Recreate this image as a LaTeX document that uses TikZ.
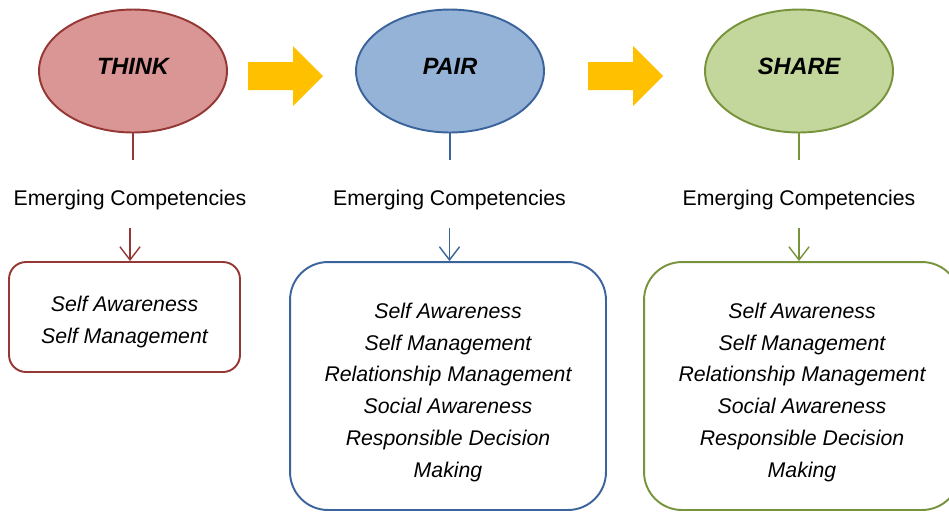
\documentclass[tikz,border=0pt]{standalone}
\usepackage{fontspec}
\setmainfont{Liberation Sans}
\usetikzlibrary{shapes.geometric,arrows.meta}

\definecolor{thinkfill}{HTML}{D99694}
\definecolor{thinkline}{HTML}{953735}
\definecolor{pairfill}{HTML}{95B3D7}
\definecolor{pairline}{HTML}{3B649C}
\definecolor{sharefill}{HTML}{C3D69B}
\definecolor{shareline}{HTML}{77933C}
\definecolor{blockarrow}{HTML}{FFC000}

% taller first line pushes the list down inside its box
\newcommand{\firstline}[1]{\rule{0pt}{#1}}

\tikzset{
  stage/.style={ellipse, draw, line width=1.1pt, minimum width=3.76cm, minimum height=2.46cm,
    inner sep=0pt, text depth=0.2cm, font=\fontsize{13.4}{16}\selectfont\bfseries\itshape},
  emerge/.style={minimum height=1.36cm, inner sep=0pt, text height=0.54cm, text depth=0.09cm,
    font=\fontsize{12.1}{14}\selectfont},
  skills/.style={draw, line width=1.1pt, align=center, inner sep=0pt,
    font=\fontsize{12.1}{18.1}\selectfont\itshape},
  smallbox/.style={skills, minimum width=4.62cm, minimum height=2.2cm, rounded corners=0.34cm},
  bigbox/.style={skills, minimum width=6.32cm, minimum height=4.96cm, rounded corners=0.76cm},
  stub/.style={line width=0.8pt},
  down/.style={line width=0.8pt, -{Straight Barb[length=7.5pt, width=11.5pt]}},
  blockarrow/.style={fill=blockarrow, draw=none}
}

\begin{document}
\begin{tikzpicture}[x=0.02cm, y=-0.02cm]

\useasboundingbox (0,0) rectangle (949,512);
\clip (0,0) rectangle (949,512);

\node[stage, draw=thinkline, fill=thinkfill] (think) at (133,71) {THINK};
\node[emerge] (emerge1) at (130,194) {Emerging Competencies};
\node[smallbox, draw=thinkline] (thinkbox) at (124.5,317) {\firstline{0.5cm}Self Awareness\\Self Management};
\draw[stub, thinkline] (think.south) -- (think.south |- emerge1.north);
\draw[down, thinkline] (emerge1.south) -- (emerge1.south |- thinkbox.north);

\node[stage, draw=pairline, fill=pairfill] (pair) at (450,71) {PAIR};
\node[emerge] (emerge2) at (449.5,194) {Emerging Competencies};
\node[bigbox, draw=pairline] (pairbox) at (448,386) {\firstline{0.556cm}Self Awareness\\Self Management\\Relationship Management\\Social Awareness\\Responsible Decision\\Making};
\draw[stub, pairline] (pair.south) -- (pair.south |- emerge2.north);
\draw[down, pairline] (emerge2.south) -- (emerge2.south |- pairbox.north);

\node[stage, draw=shareline, fill=sharefill] (share) at (799,71) {SHARE};
\node[emerge] (emerge3) at (799,194) {Emerging Competencies};
\node[bigbox, draw=shareline] (sharebox) at (802,386) {\firstline{0.556cm}Self Awareness\\Self Management\\Relationship Management\\Social Awareness\\Responsible Decision\\Making};
\draw[stub, shareline] (share.south) -- (share.south |- emerge3.north);
\draw[down, shareline] (emerge3.south) -- (emerge3.south |- sharebox.north);

\fill[blockarrow] (248,62) -- (293,62) -- (293,46) -- (323,76) -- (293,106) -- (293,90) -- (248,90) -- cycle;
\fill[blockarrow] (588,62) -- (633,62) -- (633,46) -- (663,76) -- (633,106) -- (633,90) -- (588,90) -- cycle;

\end{tikzpicture}
\end{document}
